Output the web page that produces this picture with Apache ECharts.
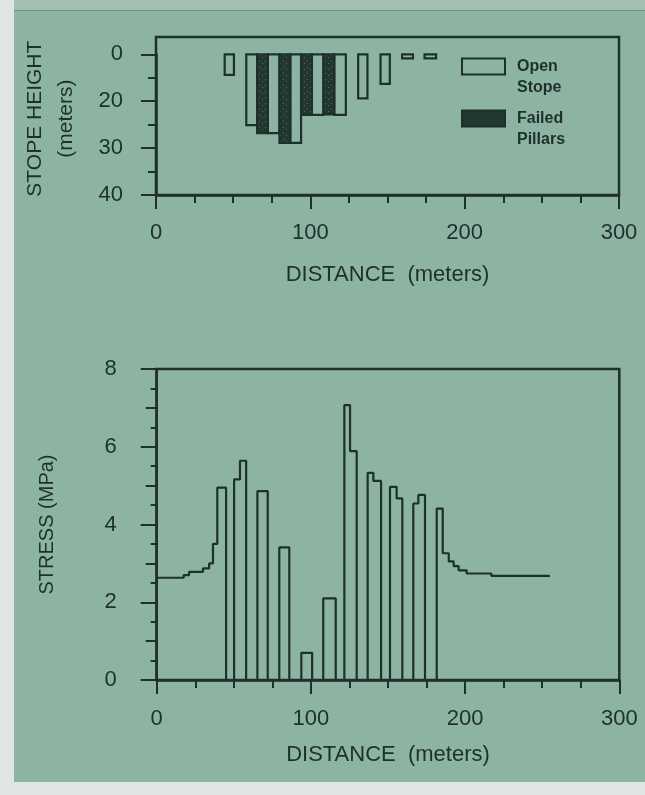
<!DOCTYPE html>
<html><head><meta charset="utf-8">
<script src="https://cdn.jsdelivr.net/npm/echarts@6/dist/echarts.min.js"></script>
<style>
html,body{margin:0;padding:0;width:645px;height:795px;background:#dfe5e2;overflow:hidden}
#top{position:absolute;left:14px;top:0;width:631px;height:10px;background:#a3c0b2}
#panel{position:absolute;left:14px;top:10px;width:631px;height:771px;background:#8db4a3;border-top:1px solid #6f8f82}
#chart{position:absolute;left:0;top:0;width:645px;height:795px}
</style></head><body><div id="top"></div><div id="panel"></div><div id="chart"></div>
<script>
// ---- data ----
const distanceTickLabels = ['0', '100', '200', '300'];
const stopeTickLabels = ['0', '20', '30', '40'];      // labels printed on the stope-height axis (ticks 0,10,20,30 of axis)
const stressTickLabels = ['0', '2', '4', '6', '8'];

const openStopeStart = [44.5, 58.5, 72.5, 87, 101, 115.5, 131, 145.5, 159.5, 174];
const openStopeEnd   = [50.5, 65.5, 80, 94, 108.5, 123, 137, 151.5, 166.5, 181.5];
const openStopeDepth = [4.4, 15.1, 16.8, 18.9, 12.9, 12.9, 9.4, 6.3, 0.85, 0.85];

const failedPillarStart = [65.5, 80, 94, 108.5];
const failedPillarEnd   = [72.5, 87, 101, 115.5];
const failedPillarDepth = [16.8, 18.9, 12.9, 12.8];

const stressDistance = [0, 17.5, 21, 30, 34, 36.5, 39.3, 45, 50.2, 54, 58, 65.3, 72, 79.5, 86, 93.8, 100.8, 108, 116.1, 121.7, 125.4, 129.7, 136.8, 140.5, 145.5, 151.3, 155.6, 159.3, 166.4, 169.7, 174, 181.6, 185.5, 189.4, 192.6, 195.8, 201, 217, 255];
const stressValue    = [2.63, 2.70, 2.78, 2.87, 3.00, 3.50, 4.95, 0, 5.16, 5.64, 0, 4.86, 0, 3.41, 0, 0.70, 0, 2.10, 0, 7.07, 5.89, 0, 5.33, 5.12, 0, 4.97, 4.67, 0, 4.54, 4.76, 0, 4.41, 3.26, 3.05, 2.93, 2.82, 2.74, 2.68, 2.68];

// ---- styling ----
const ink = '#1d302c';
const font = 'Liberation Sans, Arial, Helvetica, sans-serif';

function makePattern() {
  const c = document.createElement('canvas');
  c.width = 6; c.height = 6;
  const g = c.getContext('2d');
  g.fillStyle = '#22372f'; g.fillRect(0, 0, 6, 6);
  g.fillStyle = '#4f6f63'; g.fillRect(1, 1, 1, 1); g.fillRect(4, 3, 1, 1);
  return c;
}
const pillarFill = { image: makePattern(), repeat: 'repeat' };

const openData = openStopeStart.map((s, i) => [s, openStopeEnd[i], openStopeDepth[i]]);
const failedData = failedPillarStart.map((s, i) => [s, failedPillarEnd[i], failedPillarDepth[i]]);
const stressData = stressDistance.map((d, i) => [d, stressValue[i]]);

function rectRenderer(fill) {
  return function (params, api) {
    const p0 = api.coord([api.value(0), 0]);
    const p1 = api.coord([api.value(1), api.value(2)]);
    return {
      type: 'rect',
      shape: { x: p0[0], y: p0[1], width: p1[0] - p0[0], height: p1[1] - p0[1] },
      style: { fill: fill, stroke: ink, lineWidth: 2.2 }
    };
  };
}

const distAxisBase = {
  type: 'value', min: 0, max: 300, interval: 100,
  axisLine: { show: true, onZero: false, lineStyle: { color: ink, width: 2.5 } },
  axisTick: { show: true, length: 14, lineStyle: { color: ink, width: 2 } },
  minorTick: { show: true, splitNumber: 4, length: 8, lineStyle: { color: ink, width: 2 } },
  splitLine: { show: false }, minorSplitLine: { show: false },
  axisLabel: { fontSize: 22, color: ink, fontFamily: font,
    formatter: v => distanceTickLabels[Math.round(v / 100)] },
  name: 'DISTANCE  (meters)', nameLocation: 'middle',
  nameTextStyle: { fontSize: 22, color: ink, fontFamily: font }
};

const chart = echarts.init(document.getElementById('chart'), null, { renderer: 'canvas' });
chart.setOption({
  animation: false,
  backgroundColor: 'transparent',
  grid: [
    { left: 156, right: 26, top: 37, bottom: 600, show: true, borderColor: ink, borderWidth: 2.5, backgroundColor: 'transparent' },
    { left: 156, right: 26, top: 54.3, bottom: 600 },
    { left: 156.7, right: 25.7, top: 369, bottom: 115, show: true, borderColor: ink, borderWidth: 2.5, backgroundColor: 'transparent' }
  ],
  xAxis: [
    { gridIndex: 0, type: 'value', min: 0, max: 300, show: false },
    Object.assign({}, distAxisBase, { gridIndex: 1, position: 'bottom', nameGap: 69,
      axisLabel: Object.assign({}, distAxisBase.axisLabel, { margin: 27 }) }),
    Object.assign({}, distAxisBase, { gridIndex: 2, position: 'bottom', nameGap: 64,
      axisLabel: Object.assign({}, distAxisBase.axisLabel, { margin: 28 }) })
  ],
  yAxis: [
    { gridIndex: 0, type: 'value', min: 0, max: 1, show: false },
    { gridIndex: 1, type: 'value', inverse: true, min: 0, max: 30, interval: 10, position: 'left',
      axisLine: { show: true, onZero: false, lineStyle: { color: ink, width: 2.5 } },
      axisTick: { show: true, length: 15, lineStyle: { color: ink, width: 2 } },
      minorTick: { show: true, splitNumber: 2, length: 8, lineStyle: { color: ink, width: 2 } },
      splitLine: { show: false }, minorSplitLine: { show: false },
      axisLabel: { fontSize: 22, color: ink, fontFamily: font, margin: 33,
        formatter: v => stopeTickLabels[Math.round(v / 10)] },
      name: 'STOPE HEIGHT\n(meters)', nameLocation: 'middle', nameRotate: 90, nameGap: 74,
      nameTextStyle: { fontSize: 21, lineHeight: 31, color: ink, fontFamily: font, padding: [0, 0, 0, 12] }
    },
    { gridIndex: 2, type: 'value', min: 0, max: 8, interval: 2, position: 'left',
      axisLine: { show: true, onZero: false, lineStyle: { color: ink, width: 2.5 } },
      axisTick: { show: true, length: 16, lineStyle: { color: ink, width: 2 } },
      minorTick: { show: true, splitNumber: 4, length: 6, lineStyle: { color: ink, width: 2 } },
      splitLine: { show: false }, minorSplitLine: { show: false },
      axisLabel: { fontSize: 22, color: ink, fontFamily: font, margin: 40,
        formatter: v => stressTickLabels[Math.round(v / 2)] },
      name: 'STRESS (MPa)', nameLocation: 'middle', nameRotate: 90, nameGap: 99,
      nameTextStyle: { fontSize: 20, color: ink, fontFamily: font }
    },
    { gridIndex: 2, type: 'value', min: 0, max: 8, interval: 1, position: 'left', offset: 0,
      axisLine: { show: false, onZero: false }, axisLabel: { show: false },
      axisTick: { show: true, length: 11, lineStyle: { color: ink, width: 2 } },
      splitLine: { show: false }
    }
  ],
  legend: {
    left: 461, top: 35, padding: 0, orient: 'vertical', itemGap: -11,
    itemWidth: 43, itemHeight: 16, icon: 'rect', selectedMode: false,
    data: [
      { name: 'Open Stope', itemStyle: { color: 'rgba(0,0,0,0)', borderColor: ink, borderWidth: 2 } },
      { name: 'Failed Pillars', itemStyle: { color: '#23382f', borderColor: ink, borderWidth: 2 } }
    ],
    formatter: n => '\n' + n.replace(' ', '\n'),
    textStyle: { fontSize: 16, fontWeight: 'bold', lineHeight: 21, padding: [0, 0, 0, 7], color: ink, fontFamily: font }
  },
  series: [
    { name: 'Open Stope', type: 'custom', xAxisIndex: 1, yAxisIndex: 1,
      itemStyle: { color: 'rgba(0,0,0,0)', borderColor: ink, borderWidth: 2 },
      renderItem: rectRenderer('rgba(0,0,0,0)'), encode: { x: [0, 1], y: 2 }, data: openData },
    { name: 'Failed Pillars', type: 'custom', xAxisIndex: 1, yAxisIndex: 1,
      itemStyle: { color: '#23382f', borderColor: ink, borderWidth: 2 },
      renderItem: rectRenderer(pillarFill), encode: { x: [0, 1], y: 2 }, data: failedData },
    { name: 'Stress', type: 'line', xAxisIndex: 2, yAxisIndex: 2, step: 'end', symbol: 'none',
      lineStyle: { color: ink, width: 2.2 }, data: stressData }
  ]
});
</script></body></html>
